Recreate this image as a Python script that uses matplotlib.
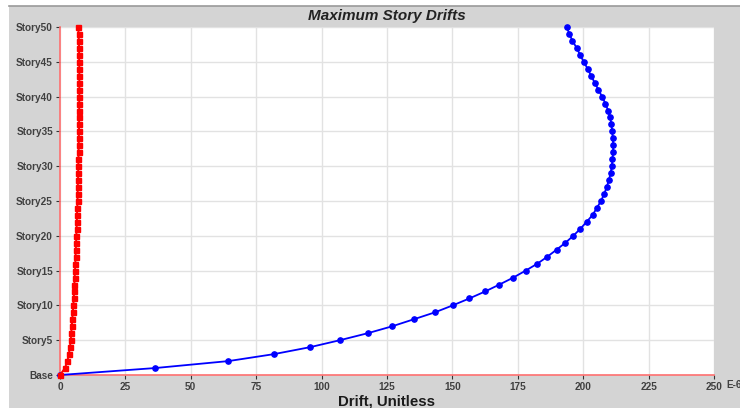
import matplotlib
matplotlib.use("Agg")
import matplotlib.pyplot as plt
from matplotlib.patches import Rectangle
from matplotlib.lines import Line2D

plt.rcParams['font.family'] = ['Liberation Sans', 'DejaVu Sans']

# Story levels (0 = Base, 1..50 = Story1..Story50)
stories = list(range(0, 51))

# Drift along X (blue) and Y (red), units of 1E-6
drift_blue = [
    0.0, 36.4, 64.4, 81.8, 95.6, 107.0, 117.6, 127.0, 135.2, 143.3,
    150.1, 156.5, 162.5, 168.0, 173.3, 178.0, 182.5, 186.3, 189.8, 193.2,
    196.2, 198.9, 201.3, 203.6, 205.2, 206.8, 208.0, 209.0, 209.8, 210.5,
    210.9, 211.2, 211.4, 211.5, 211.3, 211.1, 210.8, 210.3, 209.5, 208.5,
    207.2, 205.8, 204.4, 203.0, 201.7, 200.2, 198.8, 197.5, 195.9, 194.7,
    193.7,
]
drift_red = [
    0.0, 1.9, 2.8, 3.4, 3.8, 4.1, 4.3, 4.5, 4.7, 4.9,
    5.1, 5.25, 5.4, 5.5, 5.6, 5.75, 5.85, 5.95, 6.05, 6.15,
    6.25, 6.35, 6.45, 6.5, 6.6, 6.7, 6.75, 6.8, 6.9, 6.95,
    7.0, 7.05, 7.1, 7.15, 7.2, 7.25, 7.3, 7.3, 7.35, 7.35,
    7.4, 7.4, 7.4, 7.4, 7.4, 7.35, 7.3, 7.3, 7.2, 7.1,
    7.0,
]

y_ticks = list(range(0, 51, 5))
y_labels = ['Base'] + ['Story%d' % s for s in range(5, 51, 5)]
x_ticks = list(range(0, 251, 25))

W, H = 740, 408
fig = plt.figure(figsize=(W / 100, H / 100), dpi=100, facecolor='white')

# grey panel behind the plot
fig.patches.append(Rectangle((9 / W, 0), 1 - 9 / W, (H - 6) / H,
                             transform=fig.transFigure, facecolor='#d4d4d4',
                             edgecolor='none', zorder=-10))
fig.lines.append(Line2D([9 / W, 1], [(H - 6) / H, (H - 6) / H],
                        transform=fig.transFigure, color='#9a9a9a', lw=1.2,
                        zorder=-9))

ax = fig.add_axes([60 / W, (H - 375) / H, 654 / W, 348 / H])
ax.set_zorder(1)
ax.set_facecolor('white')

ax.plot(drift_red, stories, color='#ff0000', lw=1.4, marker='s', ms=3.6,
        mec='#ff0000', mfc='#ff0000', zorder=4, clip_on=False)
ax.plot(drift_blue, stories, color='#0000ff', lw=1.3, marker='o', ms=3.8,
        mec='#0000ff', mfc='#0000ff', zorder=3, clip_on=False)

ax.set_xlim(0, 250)
ax.set_ylim(0, 50)
ax.set_xticks(x_ticks)
ax.set_yticks(y_ticks)
ax.set_yticklabels(y_labels)
ax.grid(True, color='#e2e2e2', lw=1.0)
ax.set_axisbelow(True)

for side in ('top', 'right'):
    ax.spines[side].set_visible(False)
for side in ('left', 'bottom'):
    ax.spines[side].set_color('#ff7070')
    ax.spines[side].set_linewidth(1.2)

ax.tick_params(axis='both', length=3, width=0.8, color='#333333',
               labelsize=7.2, labelcolor='#404040', pad=2)
for lab in ax.get_xticklabels() + ax.get_yticklabels():
    lab.set_fontweight('bold')

ax.set_xlabel('Drift, Unitless', fontsize=10.8, fontweight='bold',
              color='#1a1a1a', labelpad=2)

fig.text(726 / W, 1 - 385.5 / H, 'E-6', fontsize=7.2, fontweight='bold',
         color='#404040', ha='left', va='center')
fig.text(387 / W, 1 - 16 / H, 'Maximum Story Drifts', fontsize=11,
         fontweight='bold', fontstyle='italic', color='#222222',
         ha='center', va='center')

fig.savefig('out.png', dpi=100, facecolor='white')
